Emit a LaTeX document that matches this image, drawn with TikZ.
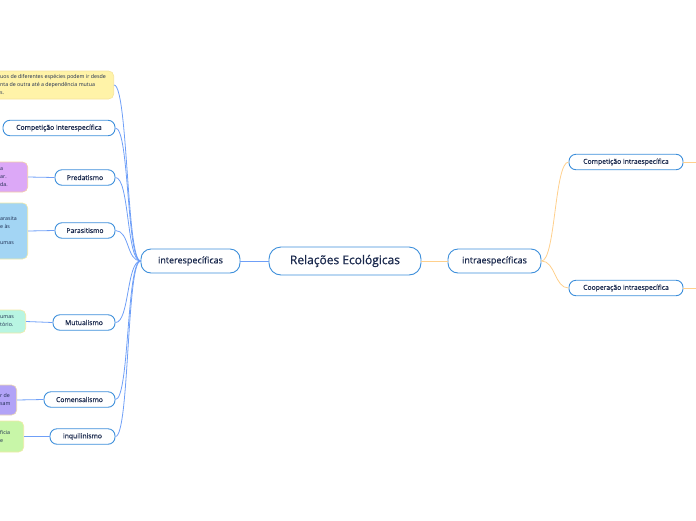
\documentclass[tikz,border=0pt]{standalone}
\usepackage{fontspec}
\setmainfont{Open Sans}[FakeBold=0.7]
\newfontfamily\notizschrift{Open Sans}
\usepackage{tikz}

\definecolor{rand}{HTML}{3D8FDB}
\definecolor{schrift}{HTML}{1B2A4E}
\definecolor{blaulinie}{HTML}{6F9FF7}
\definecolor{orangelinie}{HTML}{FFD08C}
\definecolor{gelbfuell}{HTML}{FFF3A8}
\definecolor{gelbrand}{HTML}{F6E49A}
\definecolor{lilafuell}{HTML}{DCA8F7}
\definecolor{lilarand}{HTML}{F5CFA5}
\definecolor{hblaufuell}{HTML}{A3D5F4}
\definecolor{hblaurand}{HTML}{F2E9A6}
\definecolor{mintfuell}{HTML}{B8F5E2}
\definecolor{mintrand}{HTML}{F0E9A6}
\definecolor{lavfuell}{HTML}{B2A3F7}
\definecolor{lavrand}{HTML}{EBD7B0}
\definecolor{gruenfuell}{HTML}{C8F6A8}
\definecolor{gruenrand}{HTML}{F0EAA6}

\tikzset{
  wurzel/.style={draw=rand, line width=0.9pt, fill=white, rounded corners=12pt, text=schrift,
    minimum width=152pt, minimum height=28pt, inner sep=0pt, font=\fontsize{12}{14}\selectfont},
  ast/.style={draw=rand, line width=0.9pt, fill=white, rounded corners=10pt, text=schrift,
    minimum height=24pt, inner sep=0pt, font=\fontsize{9}{11}\selectfont},
  blatt/.style={draw=rand, line width=0.9pt, fill=white, rounded corners=7pt, text=schrift,
    minimum height=15.5pt, inner sep=0pt, font=\fontsize{6.8}{8}\selectfont},
  notiz/.style={line width=0.6pt, rounded corners=5pt, inner sep=0pt},
  notiztext/.style={anchor=west, align=left, inner sep=0pt, text=schrift,
    font=\notizschrift\fontsize{5.3}{8}\selectfont},
  kurve/.style={to path={.. controls +(#1,0) and +(-#1,0) .. (\tikztotarget)}},
}

\begin{document}
\begin{tikzpicture}[x=1pt,y=-1pt]
\useasboundingbox (0,0) rectangle (696,520);
\clip (0,0) rectangle (696,520);

%Hauptknoten
\node[wurzel] (RE) at (345,261) {Relações Ecológicas};
\node[ast, minimum width=99pt] (inter) at (190.5,261) {interespecíficas};
\node[ast, minimum width=93pt] (intra) at (494.5,261) {intraespecíficas};

%rechte Seite
\node[blatt, minimum width=114pt] (compintra) at (626,162) {Competição intraespecífica};
\node[blatt, minimum width=114pt] (coopintra) at (626,288) {Cooperação intraespecífica};
\coordinate (R1) at (696,162);
\coordinate (R2) at (696,288);

%linke Seite
\node[blatt, minimum width=112pt] (compinter) at (59,128) {Competição interespecífica};
\node[blatt, minimum width=60pt] (pred) at (85,177.5) {Predatismo};
\node[blatt, minimum width=60pt] (paras) at (85,230.5) {Parasitismo};
\node[blatt, minimum width=62pt] (mutu) at (84,322.5) {Mutualismo};
\node[blatt, minimum width=71pt] (comen) at (79.5,399.5) {Comensalismo};
\node[blatt, minimum width=65pt] (inqui) at (82.5,436.5) {inquilinismo};

%Notizen
\node[notiz, draw=gelbrand, fill=gelbfuell, minimum width=126pt, minimum height=28pt, anchor=east] (gelb) at (114,85) {};
\node[notiztext] (tgelb) at (0,85) {uos de diferentes espécies podem ir desde\\nta de outra até a dependência mutua\\s.};
\node[notiz, draw=lilarand, fill=lilafuell, minimum width=40pt, minimum height=30pt, anchor=east] (lila) at (28,177) {};
\node[notiztext] (tlila) at (0,177) {a\\ar.\\da.};
\node[notiz, draw=hblaurand, fill=hblaufuell, minimum width=40pt, minimum height=56pt, anchor=east] (hblau) at (28,231) {};
\node[notiztext] (thblau) at (0,231) {arasita\\e às\\[8pt]umas};
\node[notiz, draw=mintrand, fill=mintfuell, minimum width=38pt, minimum height=23pt, anchor=east] (mint) at (26,321.5) {};
\node[notiztext] (tmint) at (0,321.5) {umas\\tório.};
\node[notiz, draw=lavrand, fill=lavfuell, minimum width=29pt, minimum height=30pt, anchor=east] (lavendel) at (17,400) {};
\node[notiztext] (tlavendel) at (0,400) {r de\\sam};
\node[notiz, draw=gruenrand, fill=gruenfuell, minimum width=36pt, minimum height=31pt, anchor=east] (gruen) at (24,436.5) {};
\node[notiztext] (tgruen) at (0,436.5) {ficia\\e};

\draw[blaulinie, line width=0.9pt] (inter) -- (RE);
\draw[orangelinie, line width=0.9pt] (RE) -- (intra);
\path[orangelinie, line width=0.8pt]
(intra.east) edge[kurve=14] (compintra.west)
(intra.east) edge[kurve=14] (coopintra.west)
(compintra.east) edge (R1)
(coopintra.east) edge (R2)
;
\path[blaulinie, line width=0.8pt]
(inter.west) edge[kurve=-14] (gelb.east)
(inter.west) edge[kurve=-14] (compinter.east)
(inter.west) edge[kurve=-14] (pred.east)
(inter.west) edge[kurve=-14] (paras.east)
(inter.west) edge[kurve=-14] (mutu.east)
(inter.west) edge[kurve=-14] (comen.east)
(inter.west) edge[kurve=-14] (inqui.east)
(pred.west) edge (lila.east)
(paras.west) edge (hblau.east)
(mutu.west) edge (mint.east)
(comen.west) edge (lavendel.east)
(inqui.west) edge (gruen.east)
;
\end{tikzpicture}
\end{document}
